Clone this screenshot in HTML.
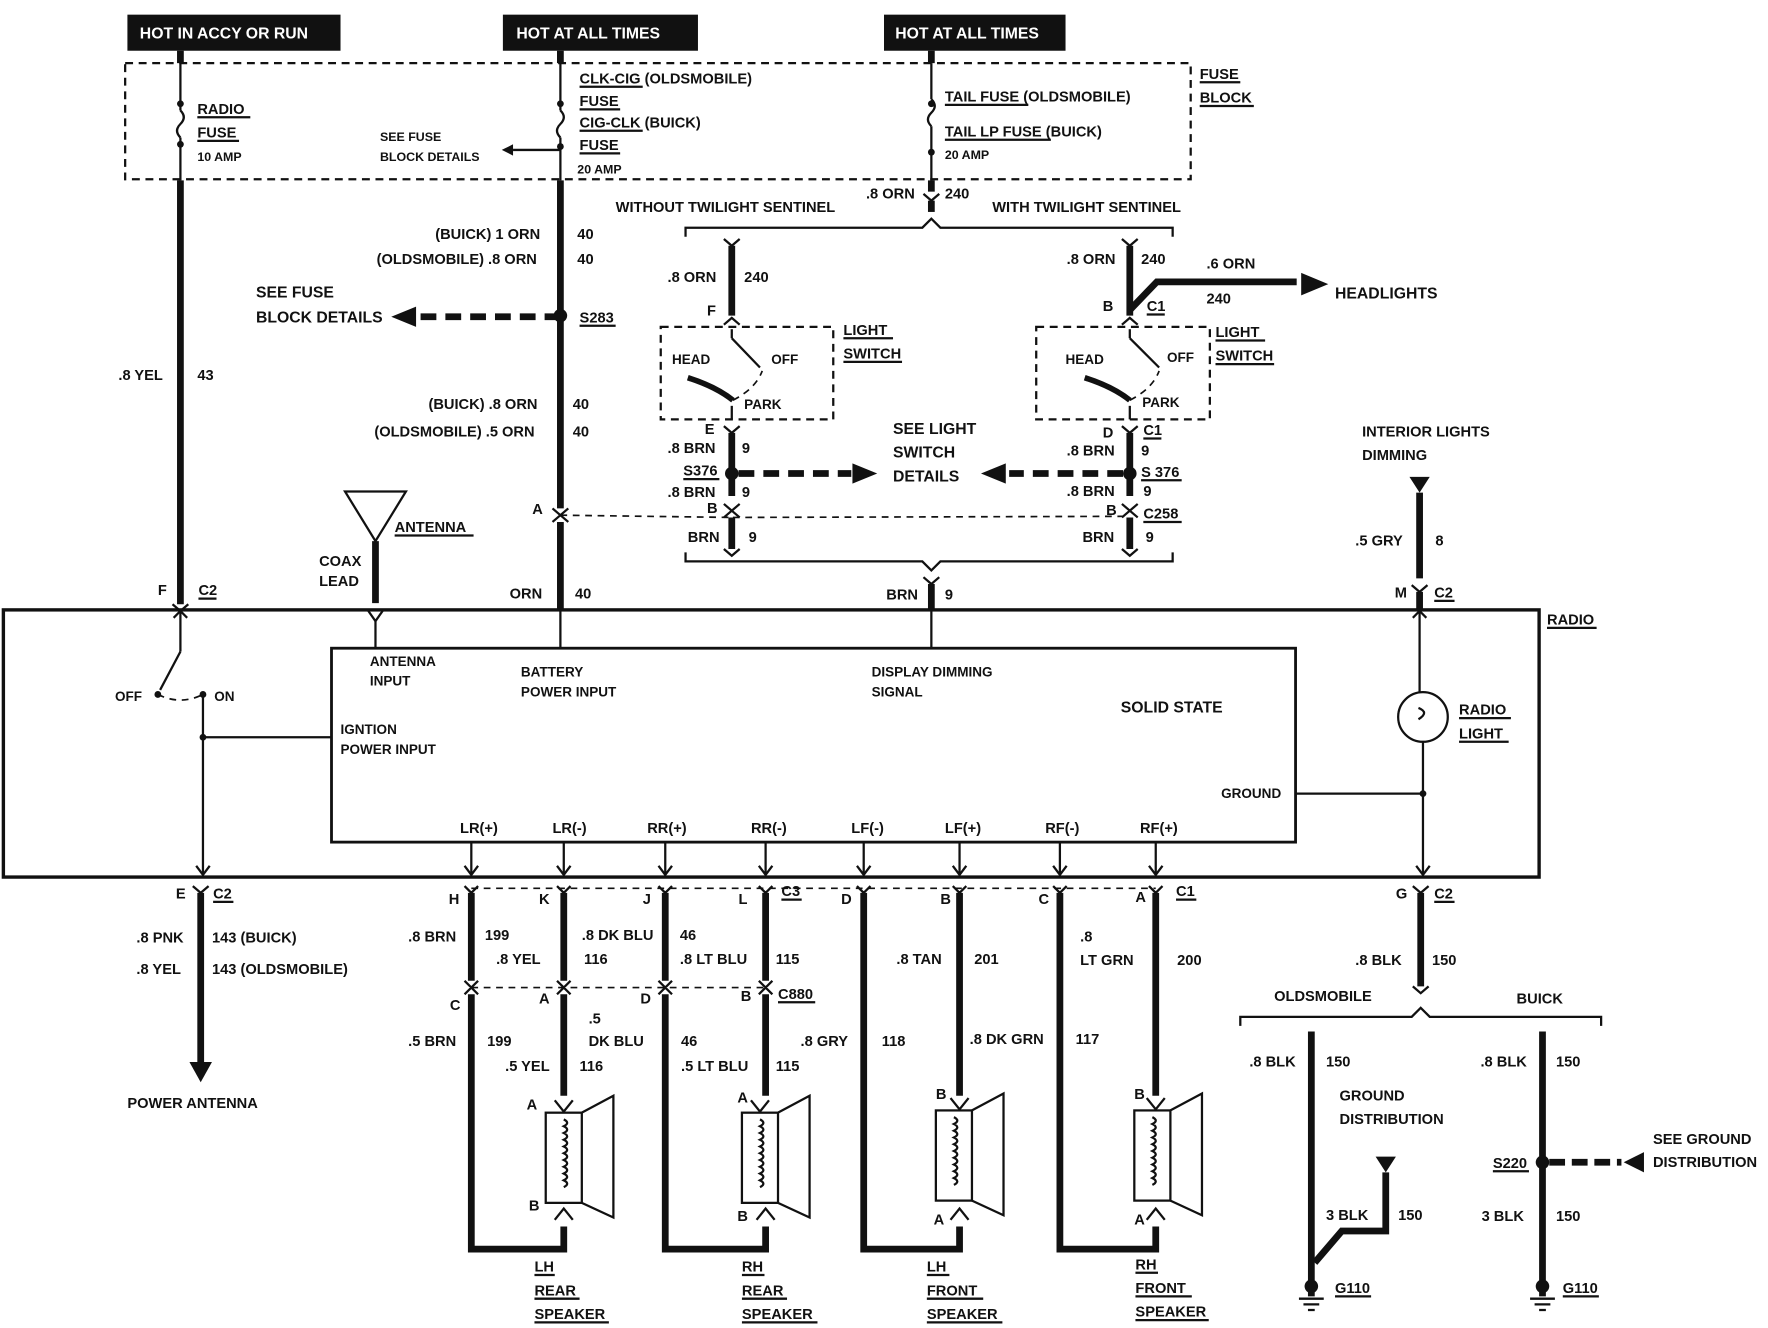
<!DOCTYPE html>
<html><head><meta charset="utf-8"><style>
html,body{margin:0;padding:0;background:#fff;}
svg{display:block;}
text{font-family:"Liberation Sans",sans-serif;font-weight:bold;font-size:13px;fill:#111;}
.w{stroke:#111;stroke-width:6;fill:none;}
.t{stroke:#111;stroke-width:2;fill:none;}
.d{stroke:#111;stroke-width:2;fill:none;stroke-dasharray:7 5;}
.dd{stroke:#111;stroke-width:1.5;fill:none;stroke-dasharray:6 5;}
</style></head><body>
<svg width="1768" height="1328" viewBox="0 0 1568 1178" preserveAspectRatio="none" xmlns="http://www.w3.org/2000/svg">
<rect width="1568" height="1178" fill="#fff"/>
<!-- headers -->
<rect x="113" y="13" width="189" height="32" fill="#111"/><text x="124" y="34" style="fill:#fff;font-size:14px">HOT IN ACCY OR RUN</text>
<rect x="446" y="13" width="173" height="32" fill="#111"/><text x="458" y="34" style="fill:#fff;font-size:14px">HOT AT ALL TIMES</text>
<rect x="784" y="13" width="161" height="32" fill="#111"/><text x="794" y="34" style="fill:#fff;font-size:14px">HOT AT ALL TIMES</text>
<!-- fuse block -->
<rect x="111" y="56" width="945" height="103" class="d"/>
<text x="1064" y="70">FUSE</text><text x="1064" y="91">BLOCK</text>
<line x1="1064" y1="73" x2="1100" y2="73" class="t"/><line x1="1064" y1="94" x2="1112" y2="94" class="t"/>
<!-- fuses -->
<line x1="160" y1="45" x2="160" y2="56" class="w"/>
<line x1="160" y1="56" x2="160" y2="98" class="t"/><path d="M160 98 q6 6 0 12 q-6 6 0 12" class="t"/><line x1="160" y1="122" x2="160" y2="160" class="t"/>
<circle cx="160" cy="92" r="3" fill="#111"/><circle cx="160" cy="128" r="3" fill="#111"/>
<text x="175" y="101">RADIO</text><text x="175" y="122">FUSE</text><text x="175" y="143" style="font-size:11px">10 AMP</text>
<line x1="175" y1="104" x2="222" y2="104" class="t"/><line x1="175" y1="125" x2="212" y2="125" class="t"/>
<line x1="497" y1="45" x2="497" y2="56" class="w"/>
<line x1="497" y1="56" x2="497" y2="98" class="t"/><path d="M497 98 q6 6 0 12 q-6 6 0 12" class="t"/><line x1="497" y1="122" x2="497" y2="160" class="t"/>
<circle cx="497" cy="92" r="3" fill="#111"/><circle cx="497" cy="130" r="3" fill="#111"/>
<line x1="497" y1="133" x2="455" y2="133" class="t"/><path d="M445 133 l10 -5 v10z" fill="#111"/>
<text x="337" y="125" style="font-size:11px">SEE FUSE</text><text x="337" y="143" style="font-size:11px">BLOCK DETAILS</text>
<text x="514" y="74">CLK-CIG (OLDSMOBILE)</text><text x="514" y="94">FUSE</text><text x="514" y="113">CIG-CLK (BUICK)</text><text x="514" y="133">FUSE</text><text x="512" y="154" style="font-size:11px">20 AMP</text>
<line x1="514" y1="77" x2="570" y2="77" class="t"/><line x1="514" y1="97" x2="550" y2="97" class="t"/><line x1="514" y1="116" x2="570" y2="116" class="t"/><line x1="514" y1="136" x2="550" y2="136" class="t"/>
<line x1="826" y1="45" x2="826" y2="56" class="w"/>
<line x1="826" y1="56" x2="826" y2="88" class="t"/><path d="M826 88 q6 6 0 12 q-6 6 0 12" class="t"/><line x1="826" y1="112" x2="826" y2="160" class="t"/>
<circle cx="826" cy="92" r="3" fill="#111"/><circle cx="826" cy="135" r="3" fill="#111"/>
<text x="838" y="90">TAIL FUSE (OLDSMOBILE)</text><text x="838" y="121">TAIL LP FUSE (BUICK)</text><text x="838" y="141" style="font-size:11px">20 AMP</text>
<line x1="838" y1="93" x2="912" y2="93" class="t"/><line x1="838" y1="124" x2="932" y2="124" class="t"/>
<!-- radio fuse wire -->
<line x1="160" y1="160" x2="160" y2="536" class="w"/>
<text x="105" y="337">.8 YEL</text><text x="175" y="337">43</text>
<text x="140" y="528">F</text><text x="176" y="528">C2</text><line x1="176" y1="531" x2="192" y2="531" class="t"/>
<path d="M153 536 l7 6 l7 -6" class="t"/>
<!-- battery wire -->
<line x1="497" y1="160" x2="497" y2="451" class="w"/><line x1="497" y1="463" x2="497" y2="541" class="w"/>
<path d="M490 451 l7 6 l7 -6" class="t"/><path d="M490 463 l7 -6 l7 6" class="t"/>
<text x="386" y="212">(BUICK) 1 ORN</text><text x="512" y="212">40</text>
<text x="334" y="234">(OLDSMOBILE) .8 ORN</text><text x="512" y="234">40</text>
<circle cx="497" cy="280" r="6" fill="#111"/>
<line x1="497" y1="281" x2="370" y2="281" class="w" style="stroke-dasharray:14 8"/><path d="M347 281 l22 -9 v18z" fill="#111"/>
<text x="227" y="264" style="font-size:14px">SEE FUSE</text><text x="227" y="286" style="font-size:14px">BLOCK DETAILS</text>
<text x="514" y="286">S283</text><line x1="514" y1="289" x2="546" y2="289" class="t"/>
<text x="380" y="363">(BUICK) .8 ORN</text><text x="508" y="363">40</text>
<text x="332" y="387">(OLDSMOBILE) .5 ORN</text><text x="508" y="387">40</text>
<text x="472" y="456">A</text>
<text x="452" y="531">ORN</text><text x="510" y="531">40</text>
<line x1="497" y1="457" x2="650" y2="459" class="dd"/><line x1="650" y1="459" x2="1000" y2="458" class="dd"/>
<!-- tail wire -->
<line x1="826" y1="160" x2="826" y2="170" class="w"/><path d="M819 172 l7 6 l7 -6" class="t"/><line x1="826" y1="178" x2="826" y2="188" class="w"/>
<text x="768" y="176">.8 ORN</text><text x="838" y="176">240</text>
<text x="546" y="188">WITHOUT TWILIGHT SENTINEL</text><text x="880" y="188">WITH TWILIGHT SENTINEL</text>
<path d="M608 210 v-8 h210 l8 -8 l8 8 h206 v8" class="t"/>
<!-- left light switch -->
<path d="M642 212 l7 6 l7 -6" class="t"/><line x1="649" y1="218" x2="649" y2="280" class="w"/>
<text x="592" y="250">.8 ORN</text><text x="660" y="250">240</text><text x="627" y="280">F</text>
<path d="M642 288 l7 -6 l7 6" class="t"/>
<rect x="586" y="290" width="153" height="82" class="d"/>
<text x="748" y="297">LIGHT</text><text x="748" y="318">SWITCH</text><line x1="748" y1="300" x2="792" y2="300" class="t"/><line x1="748" y1="321" x2="800" y2="321" class="t"/>
<text x="596" y="323" style="font-size:12px">HEAD</text><text x="684" y="323" style="font-size:12px">OFF</text><text x="660" y="363" style="font-size:12px">PARK</text>
<line x1="649" y1="292" x2="649" y2="300" class="t"/><line x1="649" y1="300" x2="674" y2="326" class="t"/>
<path d="M610 335 q25 8 40 20" class="w" style="stroke-width:5"/><path d="M650 355 q20 -10 26 -26" class="dd"/>
<line x1="649" y1="360" x2="649" y2="372" class="t"/>
<text x="625" y="385">E</text><path d="M642 378 l7 6 l7 -6" class="t"/><line x1="649" y1="384" x2="649" y2="440" class="w"/>
<text x="592" y="402">.8 BRN</text><text x="658" y="402">9</text>
<circle cx="649" cy="420" r="6" fill="#111"/><text x="606" y="422">S376</text><line x1="606" y1="425" x2="638" y2="425" class="t"/>
<line x1="655" y1="420" x2="755" y2="420" class="w" style="stroke-dasharray:14 8"/><path d="M778 420 l-22 -9 v18z" fill="#111"/>
<text x="592" y="441">.8 BRN</text><text x="658" y="441">9</text><text x="627" y="455">B</text>
<path d="M642 447 l7 6 l7 -6" class="t"/><path d="M642 459 l7 -6 l7 6" class="t"/>
<line x1="649" y1="459" x2="649" y2="487" class="w"/><path d="M642 487 l7 6 l7 -6" class="t"/>
<text x="610" y="481">BRN</text><text x="664" y="481">9</text>
<!-- right light switch -->
<path d="M995 212 l7 6 l7 -6" class="t"/><line x1="1002" y1="218" x2="1002" y2="280" class="w"/>
<text x="946" y="234">.8 ORN</text><text x="1012" y="234">240</text>
<path d="M1002 275 L1026 250 H1150" class="w"/><path d="M1178 252 l-24 -10 v20z" fill="#111"/>
<text x="1070" y="238">.6 ORN</text><text x="1070" y="269">240</text><text x="1184" y="265" style="font-size:14px">HEADLIGHTS</text>
<text x="978" y="276">B</text><text x="1017" y="276">C1</text><line x1="1017" y1="279" x2="1033" y2="279" class="t"/>
<path d="M995 288 l7 -6 l7 6" class="t"/>
<rect x="919" y="290" width="154" height="82" class="d"/>
<text x="1078" y="299">LIGHT</text><text x="1078" y="320">SWITCH</text><line x1="1078" y1="302" x2="1122" y2="302" class="t"/><line x1="1078" y1="323" x2="1130" y2="323" class="t"/>
<text x="945" y="323" style="font-size:12px">HEAD</text><text x="1035" y="321" style="font-size:12px">OFF</text><text x="1013" y="361" style="font-size:12px">PARK</text>
<line x1="1002" y1="292" x2="1002" y2="300" class="t"/><line x1="1002" y1="300" x2="1028" y2="326" class="t"/>
<path d="M962 335 q25 8 40 20" class="w" style="stroke-width:5"/><path d="M1002 355 q20 -10 26 -26" class="dd"/>
<line x1="1002" y1="360" x2="1002" y2="372" class="t"/>
<text x="978" y="388">D</text><text x="1014" y="386">C1</text><line x1="1014" y1="389" x2="1030" y2="389" class="t"/>
<path d="M995 378 l7 6 l7 -6" class="t"/><line x1="1002" y1="384" x2="1002" y2="440" class="w"/>
<text x="946" y="404">.8 BRN</text><text x="1012" y="404">9</text>
<circle cx="1002" cy="420" r="6" fill="#111"/><text x="1012" y="423">S 376</text><line x1="1012" y1="426" x2="1048" y2="426" class="t"/>
<line x1="996" y1="420" x2="895" y2="420" class="w" style="stroke-dasharray:14 8"/><path d="M870 420 l22 -9 v18z" fill="#111"/>
<text x="946" y="440">.8 BRN</text><text x="1014" y="440">9</text><text x="981" y="457">B</text>
<text x="1014" y="460">C258</text><line x1="1014" y1="463" x2="1048" y2="463" class="t"/>
<path d="M995 447 l7 6 l7 -6" class="t"/><path d="M995 459 l7 -6 l7 6" class="t"/>
<line x1="1002" y1="459" x2="1002" y2="487" class="w"/><path d="M995 487 l7 6 l7 -6" class="t"/>
<text x="960" y="481">BRN</text><text x="1016" y="481">9</text>
<text x="792" y="385" style="font-size:14px">SEE LIGHT</text><text x="792" y="406" style="font-size:14px">SWITCH</text><text x="792" y="427" style="font-size:14px">DETAILS</text>
<path d="M608 490 v8 h210 l8 8 l8 -8 h206 v-8" class="t"/>
<path d="M819 512 l7 6 l7 -6" class="t"/><line x1="826" y1="518" x2="826" y2="541" class="w"/>
<text x="786" y="532">BRN</text><text x="838" y="532">9</text>
<!-- antenna -->
<path d="M306 436 h54 l-27 44z" class="t"/><line x1="333" y1="480" x2="333" y2="535" class="w"/>
<path d="M326 541 l7 10 l7 -10" class="t"/>
<text x="350" y="472">ANTENNA</text><line x1="350" y1="475" x2="420" y2="475" class="t"/>
<text x="283" y="502">COAX</text><text x="283" y="520">LEAD</text>
<!-- interior lights -->
<text x="1208" y="387">INTERIOR LIGHTS</text><text x="1208" y="408">DIMMING</text>
<path d="M1250 423 h18 l-9 14z" fill="#111"/><line x1="1259" y1="437" x2="1259" y2="513" class="w"/>
<text x="1202" y="484">.5 GRY</text><text x="1273" y="484">8</text>
<path d="M1252 519 l7 6 l7 -6" class="t"/><line x1="1259" y1="525" x2="1259" y2="541" class="w"/>
<text x="1237" y="530">M</text><text x="1272" y="530">C2</text><line x1="1272" y1="533" x2="1290" y2="533" class="t"/>
<!-- radio box -->
<rect x="3" y="541" width="1362" height="237" class="t" style="stroke-width:3"/>
<text x="1372" y="554">RADIO</text><line x1="1372" y1="557" x2="1416" y2="557" class="t"/>
<rect x="294" y="575" width="855" height="172" class="t" style="stroke-width:2.5"/>
<text x="328" y="591" style="font-size:12px">ANTENNA</text><text x="328" y="608" style="font-size:12px">INPUT</text>
<text x="462" y="600" style="font-size:12px">BATTERY</text><text x="462" y="618" style="font-size:12px">POWER INPUT</text>
<text x="773" y="600" style="font-size:12px">DISPLAY DIMMING</text><text x="773" y="618" style="font-size:12px">SIGNAL</text>
<text x="994" y="632" style="font-size:14px">SOLID STATE</text>
<text x="302" y="651" style="font-size:12px">IGNTION</text><text x="302" y="669" style="font-size:12px">POWER INPUT</text>
<text x="1083" y="708" style="font-size:12px">GROUND</text>
<line x1="333" y1="551" x2="333" y2="575" class="t"/><line x1="497" y1="541" x2="497" y2="575" class="t"/><line x1="826" y1="541" x2="826" y2="575" class="t"/>
<!-- switch -->
<line x1="160" y1="541" x2="160" y2="578" class="t"/><path d="M154 548 l6 -6 l6 6" class="t"/>
<line x1="160" y1="578" x2="142" y2="612" class="t"/><circle cx="140" cy="616" r="3" fill="#111"/><circle cx="180" cy="616" r="3" fill="#111"/>
<path d="M140 616 q20 10 40 0" class="dd"/>
<text x="102" y="622" style="font-size:12px">OFF</text><text x="190" y="622" style="font-size:12px">ON</text>
<line x1="180" y1="616" x2="180" y2="775" class="t"/><circle cx="180" cy="654" r="3" fill="#111"/><line x1="180" y1="654" x2="294" y2="654" class="t"/>
<path d="M174 768 l6 8 l6 -8" class="t"/>
<!-- radio light -->
<line x1="1259" y1="541" x2="1259" y2="614" class="t"/><path d="M1253 548 l6 -6 l6 6" class="t"/>
<circle cx="1262" cy="636" r="22" class="t"/><path d="M1258 628 q10 4 0 10" class="t"/>
<line x1="1262" y1="658" x2="1262" y2="775" class="t"/><circle cx="1262" cy="704" r="3" fill="#111"/><line x1="1149" y1="704" x2="1262" y2="704" class="t"/>
<path d="M1256 768 l6 8 l6 -8" class="t"/>
<text x="1294" y="634">RADIO</text><text x="1294" y="655">LIGHT</text><line x1="1294" y1="637" x2="1340" y2="637" class="t"/><line x1="1294" y1="658" x2="1338" y2="658" class="t"/>
<!-- speaker outputs -->
<g style="font-size:11px">
<text x="408" y="739">LR(+)</text><text x="490" y="739">LR(-)</text><text x="574" y="739">RR(+)</text><text x="666" y="739">RR(-)</text>
<text x="755" y="739">LF(-)</text><text x="838" y="739">LF(+)</text><text x="927" y="739">RF(-)</text><text x="1011" y="739">RF(+)</text>
</g>
<g class="t">
<line x1="418" y1="747" x2="418" y2="776"/><line x1="500" y1="747" x2="500" y2="776"/><line x1="590" y1="747" x2="590" y2="776"/><line x1="679" y1="747" x2="679" y2="776"/>
<line x1="766" y1="747" x2="766" y2="776"/><line x1="851" y1="747" x2="851" y2="776"/><line x1="940" y1="747" x2="940" y2="776"/><line x1="1025" y1="747" x2="1025" y2="776"/>
<path d="M412 768 l6 8 l6 -8 M494 768 l6 8 l6 -8 M584 768 l6 8 l6 -8 M673 768 l6 8 l6 -8 M760 768 l6 8 l6 -8 M845 768 l6 8 l6 -8 M934 768 l6 8 l6 -8 M1019 768 l6 8 l6 -8"/>
<path d="M412 786 l6 6 l6 -6 M494 786 l6 6 l6 -6 M584 786 l6 6 l6 -6 M673 786 l6 6 l6 -6 M760 786 l6 6 l6 -6 M845 786 l6 6 l6 -6 M934 786 l6 6 l6 -6 M1019 786 l6 6 l6 -6 M171 786 l7 6 l7 -6 M1253 786 l7 6 l7 -6"/>
</g>
<line x1="418" y1="788" x2="1025" y2="788" class="dd"/>
<line x1="418" y1="876" x2="679" y2="876" class="dd"/>
<!-- power antenna -->
<line x1="178" y1="792" x2="178" y2="945" class="w"/><path d="M168 942 h20 l-10 18z" fill="#111"/>
<text x="156" y="797">E</text><text x="189" y="797">C2</text><line x1="189" y1="800" x2="207" y2="800" class="t"/>
<text x="121" y="836">.8 PNK</text><text x="188" y="836">143 (BUICK)</text>
<text x="121" y="864">.8 YEL</text><text x="188" y="864">143 (OLDSMOBILE)</text>
<text x="113" y="983">POWER ANTENNA</text>
<!-- speaker wires -->
<g class="w">
<path d="M418 792 V870 M418 882 V1108 H500 V1088"/>
<path d="M500 792 V870 M500 882 V972"/>
<path d="M590 792 V870 M590 882 V1108 H679 V1088"/>
<path d="M679 792 V870 M679 882 V972"/>
<path d="M766 792 V1108 H851 V1088"/>
<path d="M851 792 V972"/>
<path d="M940 792 V1108 H1025 V1088"/>
<path d="M1025 792 V972"/>
</g>
<g class="t">
<path d="M412 870 l6 6 l6 -6 M412 882 l6 -6 l6 6 M494 870 l6 6 l6 -6 M494 882 l6 -6 l6 6 M584 870 l6 6 l6 -6 M584 882 l6 -6 l6 6 M673 870 l6 6 l6 -6 M673 882 l6 -6 l6 6"/>
</g>
<!-- speakers -->
<g class="t">
<rect x="484" y="987" width="32" height="80"/><path d="M516 987 L544 972 V1080 L516 1067"/>
<rect x="658" y="987" width="32" height="80"/><path d="M690 987 L718 972 V1080 L690 1067"/>
<rect x="830" y="985" width="32" height="80"/><path d="M862 985 L890 970 V1078 L862 1065"/>
<rect x="1006" y="985" width="32" height="80"/><path d="M1038 985 L1066 970 V1078 L1038 1065"/>
<path d="M500 993 q6 3 0 6 q6 3 0 6 q6 3 0 6 q6 3 0 6 q6 3 0 6 q6 3 0 6 q6 3 0 6 q6 3 0 6 q6 3 0 6 q6 3 0 6"/>
<path d="M674 993 q6 3 0 6 q6 3 0 6 q6 3 0 6 q6 3 0 6 q6 3 0 6 q6 3 0 6 q6 3 0 6 q6 3 0 6 q6 3 0 6 q6 3 0 6"/>
<path d="M846 991 q6 3 0 6 q6 3 0 6 q6 3 0 6 q6 3 0 6 q6 3 0 6 q6 3 0 6 q6 3 0 6 q6 3 0 6 q6 3 0 6 q6 3 0 6"/>
<path d="M1022 991 q6 3 0 6 q6 3 0 6 q6 3 0 6 q6 3 0 6 q6 3 0 6 q6 3 0 6 q6 3 0 6 q6 3 0 6 q6 3 0 6 q6 3 0 6"/>
<path d="M492 976 l8 10 l8 -10 M666 976 l8 10 l8 -10 M843 974 l8 10 l8 -10 M1017 974 l8 10 l8 -10"/>
<path d="M492 1082 l8 -10 l8 10 M671 1082 l8 -10 l8 10 M843 1082 l8 -10 l8 10 M1017 1082 l8 -10 l8 10"/>
</g>
<!-- speaker labels -->
<text x="398" y="802">H</text><text x="478" y="802">K</text><text x="570" y="802">J</text><text x="655" y="802">L</text><text x="693" y="795">C3</text><line x1="693" y1="798" x2="711" y2="798" class="t"/>
<text x="746" y="802">D</text><text x="834" y="802">B</text><text x="921" y="802">C</text><text x="1007" y="800">A</text><text x="1043" y="795">C1</text><line x1="1043" y1="798" x2="1061" y2="798" class="t"/>
<text x="362" y="835">.8 BRN</text><text x="430" y="834">199</text>
<text x="440" y="855">.8 YEL</text><text x="516" y="834">.8 DK BLU</text><text x="518" y="855">116</text>
<text x="603" y="834">46</text><text x="603" y="855">.8 LT BLU</text><text x="688" y="855">115</text>
<text x="795" y="855">.8 TAN</text><text x="864" y="855">201</text>
<text x="958" y="835">.8</text><text x="958" y="856">LT GRN</text><text x="1044" y="856">200</text>
<text x="399" y="896">C</text><text x="478" y="890">A</text><text x="568" y="890">D</text><text x="657" y="888">B</text><text x="690" y="886">C880</text><line x1="690" y1="889" x2="723" y2="889" class="t"/>
<text x="362" y="928">.5 BRN</text><text x="432" y="928">199</text>
<text x="522" y="908">.5</text><text x="522" y="928">DK BLU</text><text x="448" y="950">.5 YEL</text><text x="514" y="950">116</text>
<text x="604" y="928">46</text><text x="604" y="950">.5 LT BLU</text><text x="688" y="950">115</text>
<text x="710" y="928">.8 GRY</text><text x="782" y="928">118</text>
<text x="860" y="926">.8 DK GRN</text><text x="954" y="926">117</text>
<text x="467" y="984">A</text><text x="469" y="1074">B</text><text x="654" y="978">A</text><text x="654" y="1083">B</text>
<text x="830" y="975">B</text><text x="828" y="1086">A</text><text x="1006" y="975">B</text><text x="1006" y="1086">A</text>
<text x="474" y="1128">LH</text><text x="474" y="1149">REAR</text><text x="474" y="1170">SPEAKER</text>
<text x="658" y="1128">RH</text><text x="658" y="1149">REAR</text><text x="658" y="1170">SPEAKER</text>
<text x="822" y="1128">LH</text><text x="822" y="1149">FRONT</text><text x="822" y="1170">SPEAKER</text>
<text x="1007" y="1126">RH</text><text x="1007" y="1147">FRONT</text><text x="1007" y="1168">SPEAKER</text>
<g class="t"><line x1="474" y1="1131" x2="492" y2="1131"/><line x1="474" y1="1152" x2="514" y2="1152"/><line x1="474" y1="1173" x2="540" y2="1173"/>
<line x1="658" y1="1131" x2="678" y2="1131"/><line x1="658" y1="1152" x2="698" y2="1152"/><line x1="658" y1="1173" x2="725" y2="1173"/>
<line x1="822" y1="1131" x2="842" y2="1131"/><line x1="822" y1="1152" x2="872" y2="1152"/><line x1="822" y1="1173" x2="889" y2="1173"/>
<line x1="1007" y1="1129" x2="1027" y2="1129"/><line x1="1007" y1="1150" x2="1057" y2="1150"/><line x1="1007" y1="1171" x2="1072" y2="1171"/></g>
<!-- ground -->
<line x1="1260" y1="792" x2="1260" y2="875" class="w"/><path d="M1253 875 l7 6 l7 -6" class="t"/>
<text x="1238" y="797">G</text><text x="1272" y="797">C2</text><line x1="1272" y1="800" x2="1290" y2="800" class="t"/>
<text x="1202" y="856">.8 BLK</text><text x="1270" y="856">150</text>
<text x="1130" y="888">OLDSMOBILE</text><text x="1345" y="890">BUICK</text>
<path d="M1100 910 v-8 h152 l8 -8 l8 8 h152 v8" class="t"/>
<line x1="1163" y1="915" x2="1163" y2="1150" class="w"/>
<text x="1108" y="946">.8 BLK</text><text x="1176" y="946">150</text>
<text x="1188" y="976">GROUND</text><text x="1188" y="997">DISTRIBUTION</text>
<path d="M1220 1026 h18 l-9 14z" fill="#111"/><path d="M1229 1040 V1092 H1190 L1166 1120" class="w"/>
<text x="1176" y="1082">3 BLK</text><text x="1240" y="1082">150</text>
<circle cx="1163" cy="1141" r="6" fill="#111"/><path d="M1152 1152 h22 M1156 1157 h14 M1160 1162 h6" class="t"/>
<text x="1184" y="1147">G110</text><line x1="1184" y1="1150" x2="1216" y2="1150" class="t"/>
<line x1="1368" y1="915" x2="1368" y2="1150" class="w"/>
<text x="1313" y="946">.8 BLK</text><text x="1380" y="946">150</text>
<circle cx="1368" cy="1031" r="6" fill="#111"/><text x="1324" y="1036">S220</text><line x1="1324" y1="1039" x2="1356" y2="1039" class="t"/>
<line x1="1374" y1="1031" x2="1438" y2="1031" class="w" style="stroke-dasharray:14 6"/><path d="M1440 1031 l18 -9 v18z" fill="#111"/>
<text x="1466" y="1015">SEE GROUND</text><text x="1466" y="1035">DISTRIBUTION</text>
<text x="1314" y="1083">3 BLK</text><text x="1380" y="1083">150</text>
<circle cx="1368" cy="1141" r="6" fill="#111"/><path d="M1357 1152 h22 M1361 1157 h14 M1365 1162 h6" class="t"/>
<text x="1386" y="1147">G110</text><line x1="1386" y1="1150" x2="1418" y2="1150" class="t"/>
</svg>
</body></html>
